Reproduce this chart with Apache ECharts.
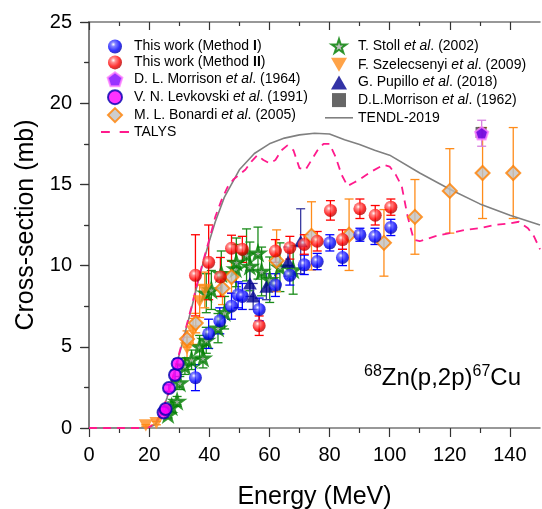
<!DOCTYPE html>
<html>
<head>
<meta charset="utf-8">
<script src="https://cdn.jsdelivr.net/npm/echarts@6/dist/echarts.min.js"></script>
<style>
  html, body { margin: 0; padding: 0; background: #fff; }
  #main { width: 542px; height: 509px; }
</style>
</head>
<body>
<div id="main"></div>
<script>
// [energy (MeV), cross-section (mb), error (mb)]
var methodI = [[35.4,3.1,0.8],[39.8,5.8,0.9],[43.5,6.6,0.8],[47.4,7.5,0.8],[49.6,8.2,0.8],[51,8.1,0.8],
  [56.6,7.3,0.7],[62,8.8,0.7],[66.8,9.4,0.6],[71.6,10.05,0.6],[75.9,10.25,0.5],[80.1,11.4,0.5],
  [84.3,10.5,0.5],[90.1,11.9,0.4],[95.1,11.8,0.5],[100.4,12.35,0.5]];
var methodII = [[35.4,9.4,2.5],[39.8,10.2,2.3],[43.7,9.3,1.2],[47.4,11.07,0.8],[51,11.0,0.8],[56.6,6.3,0.6],
  [62,10.9,0.7],[66.8,11.1,0.7],[71.6,11.3,0.6],[75.9,11.5,0.6],[80.3,13.4,0.6],[84.3,11.6,0.6],
  [90.1,13.5,0.6],[95.2,13.1,0.6],[100.4,13.6,0.5]];
var morrison64 = [[130.6,18.15,0.8]];
var levkovski = [[24.8,0.95,0.1],[25.5,1.17,0.1],[26.6,2.46,0.2],[28.6,3.26,0.3],[29.5,3.96,0.3]];
var bonardi = [[32.6,5.48,0.5],[35.5,6.46,0.6],[44.4,8.6,1.0],[47.4,9.3,1.0],[62.4,10.3,1.9],[74,11.83,2.1],
  [86.5,11.9,2.2],[98.1,11.4,2.05],[108.4,13.0,2.3],[120,14.6,2.6],[130.9,15.7,2.8],[141.1,15.7,2.8]];
var stoll = [[26.3,0.82,0.2],[27.5,1.3,0.3],[29.3,1.64,0.3],[30.2,2.77,0.4],[31.9,3.8,0.5],[34.1,4.2,0.6],
  [36.8,5.0,0.7],[37.9,4.3,0.6],[39,5.4,0.8],[42.9,6.15,0.9],[45.1,7.1,1.0],[39,8.3,1.2],[40.7,8.5,1.2],
  [44,9.5,1.4],[48.8,9.8,1.5],[49,10.2,1.5],[52.4,10.66,1.6],[53.5,9.95,1.5],[56.2,10.77,1.6],
  [57.4,9.64,1.5],[60.1,9.13,1.4],[63.5,9.9,1.5],[67.9,9.74,1.5]];
var szelecsenyi = [[18.9,0.16,0.05],[22.4,0.3,0.1],[32.6,4.9,0.7],[34.6,5.95,0.8],[36.8,7.8,1.0],[38.5,8.5,1.1]];
var pupillo = [[53.5,8.9,0.8],[54.6,8.1,0.8],[59,8.7,0.8],[66.2,10.25,0.9],[70.4,11.5,2.0]];
var morrison62 = [[130.4,18.2,0]];
var talys = [[0,0],[18,0],[20,0.05],[22,0.3],[24,0.9],[26,1.9],[28,3.2],[30,4.6],[32,6.0],[34,7.4],[36,8.9],
  [38,10.3],[40,11.6],[42,13.0],[44,14.0],[46,14.8],[48,15.3],[50,15.6],[52,15.9],[54,16.4],[56,16.8],
  [58,16.5],[60,16.3],[62,16.5],[64,17.1],[66,17.4],[68,17.1],[70,16.0],[72,15.9],[74,16.5],[76,17.1],
  [78,17.5],[80,17.5],[82,16.7],[84,15.6],[86,14.9],[88,15.1],[90,15.3],[94,15.8],[98,16.2],[100,16.1],
  [102,15.6],[104,14.9],[106,13.0],[108,11.6],[110,11.5],[115,11.8],[120,12.0],[125,12.2],[130,12.3],
  [135,12.5],[140,12.6],[143,12.7],[146,12.3],[148,11.8],[150,11.0]];
var tendl = [[0,0],[18,0],[20,0.05],[22,0.2],[24,0.8],[26,1.9],[28,3.2],[30,4.5],[32,5.9],[34,7.3],[36,8.8],
  [38,10.2],[40,11.5],[42,12.7],[45,14.2],[50,15.9],[55,16.9],[60,17.5],[65,17.85],[70,18.05],[75,18.15],
  [80,18.1],[85,17.75],[90,17.45],[95,17.1],[100,16.8],[110,15.7],[120,14.7],[130,13.8],[140,13.1],[150,12.5]];

var xTicks = [0, 20, 40, 60, 80, 100, 120, 140];
var xMinor = [10, 30, 50, 70, 90, 110, 130];

var FONT = 'Liberation Sans';

function sphere(c0, c1, c2) {
  return { type: 'radial', x: 0.38, y: 0.35, r: 0.75,
    colorStops: [{ offset: 0, color: '#ffffff' }, { offset: 0.22, color: c0 },
      { offset: 0.6, color: c1 }, { offset: 1, color: c2 }] };
}

function pts(arr) { return arr.map(function (d) { return [d[0], d[1]]; }); }
function bars(arr) { return arr.filter(function (d) { return d[2] > 0; })
  .map(function (d) { return [d[0], d[1] - d[2], d[1] + d[2]]; }); }

function errSeries(arr, color) {
  return {
    type: 'custom', name: '_err', data: bars(arr), z: 2, silent: true,
    renderItem: function (params, api) {
      var x = api.value(0);
      var top = api.coord([x, api.value(2)]);
      var bot = api.coord([x, api.value(1)]);
      var w = 4.5;
      var st = { stroke: color, lineWidth: 1.3 };
      return { type: 'group', children: [
        { type: 'line', shape: { x1: top[0], y1: top[1], x2: bot[0], y2: bot[1] }, style: st },
        { type: 'line', shape: { x1: top[0] - w, y1: top[1], x2: top[0] + w, y2: top[1] }, style: st },
        { type: 'line', shape: { x1: bot[0] - w, y1: bot[1], x2: bot[0] + w, y2: bot[1] }, style: st }
      ] };
    }
  };
}

function scat(name, arr, symbol, size, style) {
  return { type: 'scatter', name: name, data: pts(arr), symbol: symbol, symbolSize: size,
    symbolKeepAspect: true, itemStyle: style, z: 5 };
}

var STAR = 'path://M50,0 L61,35 L98,35 L68,57 L79,91 L50,70 L21,91 L32,57 L2,35 L39,35 Z';
var PENT = 'path://M50,0 L97.6,34.5 L79.4,90.5 L20.6,90.5 L2.4,34.5 Z';
var TDOWN = 'path://M0,0 L100,0 L50,87 Z';
var TUP = 'path://M50,0 L100,87 L0,87 Z';
var DIAM = 'path://M50,0 L100,50 L50,100 L0,50 Z';
var SQUARE = 'path://M0,0 L100,0 L100,100 L0,100 Z';
var DASHES = 'path://M0,0 H8.5 V2 H0 Z M18,0 H27 V2 H18 Z';
var SOLID = 'path://M0,0 H28 V1.6 H0 Z';

var legendText = {
  fontFamily: FONT, fontSize: 14, color: '#000',
  rich: {
    i: { fontFamily: FONT, fontSize: 14, fontStyle: 'italic', color: '#000' },
    b: { fontFamily: FONT, fontSize: 14, fontWeight: 'bold', color: '#000' }
  }
};
function legendFmt(name) {
  return name.replace('et al.', '{i|et al}.').replace(/\(Method (I+)\)/, '(Method {b|$1})');
}

var axisLine = { show: true, lineStyle: { color: '#777', width: 1.5 } };
var tickStyle = { color: '#333', width: 1.2 };

var chart = echarts.init(document.getElementById('main'), null, { renderer: 'canvas' });
chart.setOption({
  animation: false,
  backgroundColor: '#fff',
  grid: { left: 89, right: 2, top: 22, bottom: 81, outerBoundsMode: 'none', containLabel: false },
  legend: [{
    orient: 'vertical', left: 101, top: 39.5, padding: 0, itemWidth: 28, itemHeight: 14, itemGap: 1.9,
    textStyle: legendText, formatter: legendFmt,
    data: ['This work (Method I)', 'This work (Method II)', 'D. L. Morrison et al. (1964)',
      'V. N. Levkovski et al. (1991)', 'M. L. Bonardi et al. (2005)', { name: 'TALYS', icon: DASHES }]
  }, {
    orient: 'vertical', left: 325, top: 38, padding: 0, itemWidth: 28, itemHeight: 14, itemGap: 3.7,
    textStyle: legendText, formatter: legendFmt,
    data: ['T. Stoll et al. (2002)', 'F. Szelecsenyi et al. (2009)', 'G. Pupillo et al. (2018)',
      'D.L.Morrison et al. (1962)', { name: 'TENDL-2019', icon: SOLID }]
  }],
  xAxis: [{
    type: 'value', min: 0, max: 150, position: 'bottom',
    axisLine: axisLine,
    axisTick: { length: 9, lineStyle: tickStyle, customValues: xTicks },
    axisLabel: { customValues: xTicks, fontFamily: FONT, fontSize: 20, margin: 17, color: '#000' },
    splitLine: { show: false },
    name: 'Energy (MeV)', nameLocation: 'middle', nameGap: 57,
    nameTextStyle: { fontFamily: FONT, fontSize: 25, color: '#000' }
  }, {
    type: 'value', min: 0, max: 150, position: 'bottom',
    axisLine: { show: false },
    axisTick: { length: 5, lineStyle: tickStyle, customValues: xMinor },
    axisLabel: { show: false }, splitLine: { show: false }
  }, {
    type: 'value', min: 0, max: 150, position: 'top',
    axisLine: axisLine,
    axisTick: { inside: true, length: 8, lineStyle: tickStyle, customValues: xTicks },
    axisLabel: { show: false }, splitLine: { show: false }
  }, {
    type: 'value', min: 0, max: 150, position: 'top',
    axisLine: { show: false },
    axisTick: { inside: true, length: 4, lineStyle: tickStyle, customValues: xMinor },
    axisLabel: { show: false }, splitLine: { show: false }
  }],
  yAxis: [{
    type: 'value', min: 0, max: 25, interval: 5, position: 'left',
    axisLine: axisLine,
    axisTick: { length: 9, lineStyle: tickStyle },
    minorTick: { show: true, splitNumber: 2, length: 5, lineStyle: tickStyle },
    axisLabel: { fontFamily: FONT, fontSize: 20, margin: 17, color: '#000' },
    splitLine: { show: false },
    name: 'Cross-section (mb)', nameLocation: 'middle', nameGap: 49,
    nameTextStyle: { fontFamily: FONT, fontSize: 25, color: '#000' }
  }, {
    type: 'value', min: 0, max: 25, interval: 5, position: 'right',
    axisLine: axisLine,
    axisTick: { inside: true, length: 8, lineStyle: tickStyle },
    minorTick: { show: true, splitNumber: 2, length: 4, lineStyle: tickStyle },
    axisLabel: { show: false }, splitLine: { show: false }
  }],
  graphic: [{
    type: 'text', left: 364, top: 364, z: 10,
    style: {
      text: '{s|68}{n|Zn(p,2p)}{s|67}{n|Cu}',
      rich: {
        s: { fontFamily: FONT, fontSize: 16, verticalAlign: 'top', lineHeight: 15, fill: '#000' },
        n: { fontFamily: FONT, fontSize: 24, lineHeight: 28, fill: '#000' }
      }
    }
  }],
  series: [
    { type: 'line', name: 'TENDL-2019', data: tendl, symbol: 'none', z: 3,
      lineStyle: { color: '#808080', width: 1.6 }, itemStyle: { color: '#808080' } },
    { type: 'line', name: 'TALYS', data: talys, symbol: 'none', z: 3,
      lineStyle: { color: '#ff1a8c', width: 1.8, type: [8, 6] }, itemStyle: { color: '#ff1a8c' } },
    errSeries(stoll, '#1a8c1a'),
    errSeries(szelecsenyi, '#ff8c1a'),
    errSeries(bonardi, '#ff8c1a'),
    errSeries(pupillo, '#3a3aa0'),
    errSeries(morrison64, '#d880e0'),
    errSeries(levkovski, '#0000cc'),
    errSeries(methodI, '#0000ff'),
    errSeries(methodII, '#ff0000'),
    scat('T. Stoll et al. (2002)', stoll, STAR, 13,
      { color: '#b0b0b0', borderColor: '#008000', borderWidth: 2.5 }),
    scat('F. Szelecsenyi et al. (2009)', szelecsenyi, TDOWN, 14, { color: '#ff8c1a' }),
    scat('M. L. Bonardi et al. (2005)', bonardi, DIAM, 14,
      { color: '#c0c0c0', borderColor: '#ff8000', borderWidth: 2 }),
    scat('G. Pupillo et al. (2018)', pupillo, TUP, 14, { color: '#000090' }),
    scat('D.L.Morrison et al. (1962)', morrison62, SQUARE, 11, { color: '#404040' }),
    scat('D. L. Morrison et al. (1964)', morrison64, PENT, 13,
      { color: '#8000ff', borderColor: '#ff80ff', borderWidth: 2 }),
    scat('V. N. Levkovski et al. (1991)', levkovski, 'circle', 12,
      { color: '#ff00ff', borderColor: '#0000b0', borderWidth: 2 }),
    scat('This work (Method I)', methodI, 'circle', 13, { color: sphere('#6060ff', '#0000ff', '#00008a') }),
    scat('This work (Method II)', methodII, 'circle', 13, { color: sphere('#ff7070', '#ff0000', '#900000') })
  ]
});
</script>
</body>
</html>
